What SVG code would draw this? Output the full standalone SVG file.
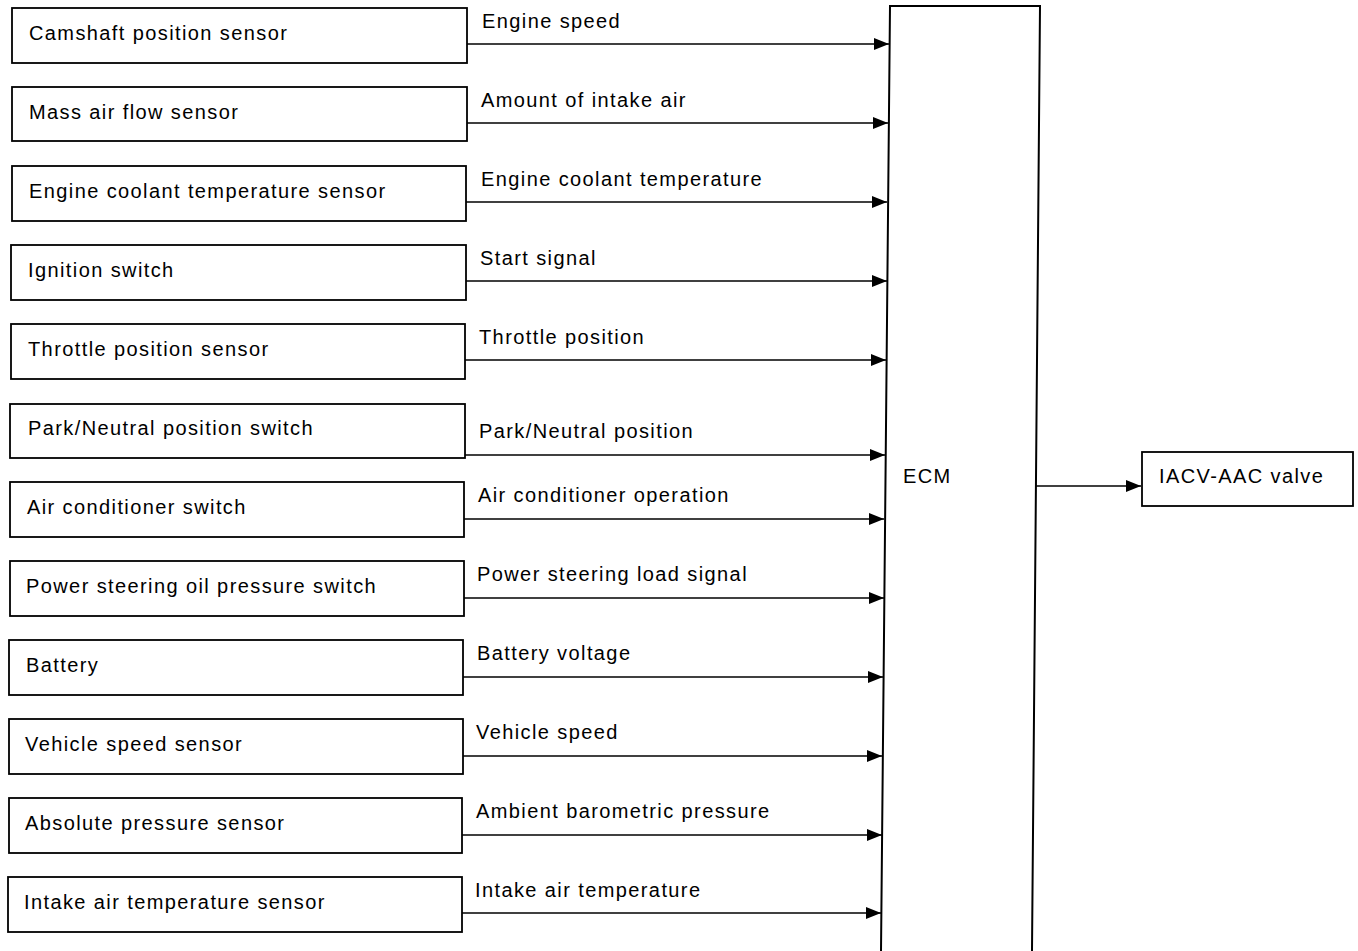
<svg xmlns="http://www.w3.org/2000/svg" width="1358" height="951" viewBox="0 0 1358 951">
  <style>
    .box { fill: #fff; stroke: #000; stroke-width: 1.8; }
    .lbl { font-family: "Liberation Sans", Arial, sans-serif; font-size: 20px; letter-spacing: 1.4px; fill: #000; }
    .wire { stroke: #000; stroke-width: 1.4; fill: none; marker-end: url(#arrow); }
  </style>
  <defs>
    <marker id="arrow" viewBox="0 0 15 12" refX="15" refY="6" markerWidth="15" markerHeight="12" markerUnits="userSpaceOnUse" orient="auto">
      <path d="M0,0 L15,6 L0,12 Z" fill="#000"/>
    </marker>
  </defs>
  <rect width="1358" height="951" fill="#fff"/>

  <!-- Input sensors and switches -->
  <g id="camshaft-position-sensor"><rect class="box" x="12" y="8" width="455" height="55"/><text class="lbl" x="29" y="40">Camshaft position sensor</text></g>
  <g id="mass-air-flow-sensor"><rect class="box" x="12" y="87" width="455" height="54"/><text class="lbl" x="29" y="119">Mass air flow sensor</text></g>
  <g id="engine-coolant-temperature-sensor"><rect class="box" x="12" y="166" width="454" height="55"/><text class="lbl" x="29" y="198">Engine coolant temperature sensor</text></g>
  <g id="ignition-switch"><rect class="box" x="11" y="245" width="455" height="55"/><text class="lbl" x="28" y="277">Ignition switch</text></g>
  <g id="throttle-position-sensor"><rect class="box" x="11" y="324" width="454" height="55"/><text class="lbl" x="28" y="356">Throttle position sensor</text></g>
  <g id="park-neutral-position-switch"><rect class="box" x="10" y="404" width="455" height="54"/><text class="lbl" x="28" y="435">Park/Neutral position switch</text></g>
  <g id="air-conditioner-switch"><rect class="box" x="10" y="482" width="454" height="55"/><text class="lbl" x="27" y="514">Air conditioner switch</text></g>
  <g id="power-steering-oil-pressure-switch"><rect class="box" x="10" y="561" width="454" height="55"/><text class="lbl" x="26" y="593">Power steering oil pressure switch</text></g>
  <g id="battery"><rect class="box" x="9" y="640" width="454" height="55"/><text class="lbl" x="26" y="672">Battery</text></g>
  <g id="vehicle-speed-sensor"><rect class="box" x="9" y="719" width="454" height="55"/><text class="lbl" x="25" y="751">Vehicle speed sensor</text></g>
  <g id="absolute-pressure-sensor"><rect class="box" x="9" y="798" width="453" height="55"/><text class="lbl" x="25" y="830">Absolute pressure sensor</text></g>
  <g id="intake-air-temperature-sensor"><rect class="box" x="8" y="877" width="454" height="55"/><text class="lbl" x="24" y="909">Intake air temperature sensor</text></g>

  <!-- Control module, running off the bottom edge -->
  <g id="ecm">
    <path d="M881,951 L890,6 L1040,6 L1032,951" fill="#fff" stroke="#000" stroke-width="2"/>
    <text class="lbl" x="903" y="483">ECM</text>
  </g>

  <!-- Actuator -->
  <g id="iacv-aac-valve"><rect class="box" x="1142" y="452" width="211" height="54"/><text class="lbl" x="1159" y="483">IACV-AAC valve</text></g>

  <!-- Signal lines with their labels -->
  <g id="connectors">
    <path class="wire" d="M467,44 H889"/><text class="lbl" x="482" y="28">Engine speed</text>
    <path class="wire" d="M467,123 H888"/><text class="lbl" x="481" y="107">Amount of intake air</text>
    <path class="wire" d="M466,202 H887"/><text class="lbl" x="481" y="186">Engine coolant temperature</text>
    <path class="wire" d="M466,281 H887"/><text class="lbl" x="480" y="265">Start signal</text>
    <path class="wire" d="M465,360 H886"/><text class="lbl" x="479" y="344">Throttle position</text>
    <path class="wire" d="M465,455 H885"/><text class="lbl" x="479" y="438">Park/Neutral position</text>
    <path class="wire" d="M464,519 H884"/><text class="lbl" x="478" y="502">Air conditioner operation</text>
    <path class="wire" d="M464,598 H884"/><text class="lbl" x="477" y="581">Power steering load signal</text>
    <path class="wire" d="M463,677 H883"/><text class="lbl" x="477" y="660">Battery voltage</text>
    <path class="wire" d="M463,756 H882"/><text class="lbl" x="476" y="739">Vehicle speed</text>
    <path class="wire" d="M462,835 H882"/><text class="lbl" x="476" y="818">Ambient barometric pressure</text>
    <path class="wire" d="M462,913 H881"/><text class="lbl" x="475" y="897">Intake air temperature</text>
    <path class="wire" d="M1036,486 H1141"/>
  </g>
</svg>
